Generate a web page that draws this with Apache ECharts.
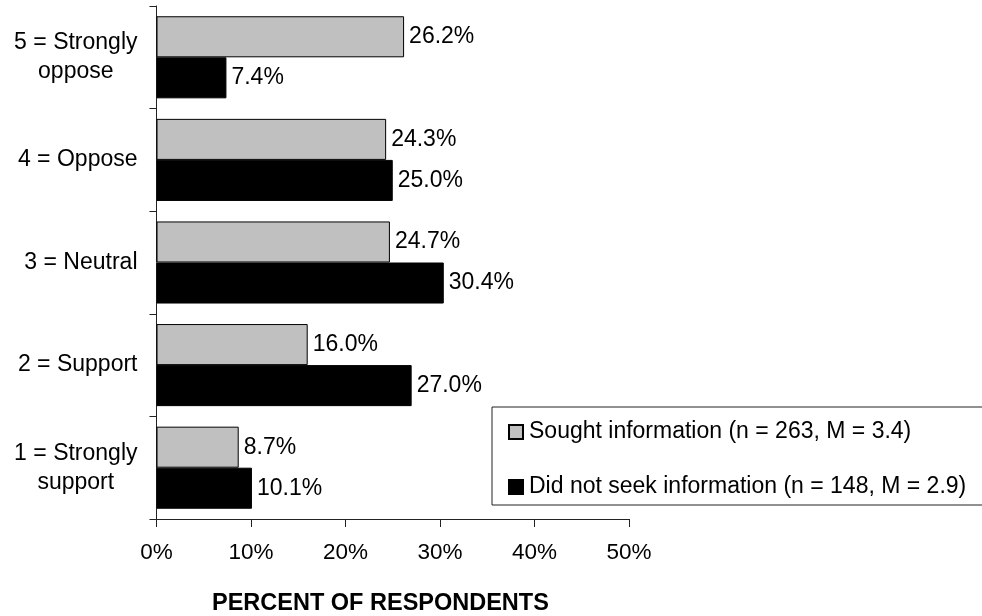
<!DOCTYPE html>
<html>
<head>
<meta charset="utf-8">
<script src="https://cdn.jsdelivr.net/npm/echarts@6/dist/echarts.min.js"></script>
<style>
html,body{margin:0;padding:0;background:#fff;}
#chart{width:982px;height:616px;}
</style>
</head>
<body>
<div id="chart"></div>
<script>
var categories = ['1 = Strongly\nsupport', '2 = Support', '3 = Neutral', '4 = Oppose', '5 = Strongly\noppose'];
var soughtValues = [8.7, 16.0, 24.7, 24.3, 26.2];
var notSoughtValues = [10.1, 27.0, 30.4, 25.0, 7.4];
var soughtName = 'Sought information (n = 263, M = 3.4)';
var notSoughtName = 'Did not seek information (n = 148, M = 2.9)';
var xTicks = [0, 10, 20, 30, 40, 50];
var axisTitle = 'PERCENT OF RESPONDENTS';

var FONT = "'Liberation Sans', Arial, sans-serif";
var FS = 23;

var chart = echarts.init(document.getElementById('chart'), null, {renderer: 'canvas'});
var labelCfg = {
  show: true,
  position: 'right',
  distance: 5,
  color: '#000',
  fontFamily: FONT,
  fontSize: FS,
  formatter: function (p) { return p.value.toFixed(1) + '%'; }
};
chart.setOption({
  animation: false,
  backgroundColor: '#fff',
  textStyle: {fontFamily: FONT},
  title: {
    text: axisTitle,
    left: 212,
    top: 592,
    padding: 0,
    textStyle: {fontFamily: FONT, fontSize: 23.5, fontWeight: 'bold', color: '#000'}
  },
  grid: {left: 156.5, right: 353, top: 6, bottom: 97, containLabel: false},
  legend: {
    orient: 'vertical',
    left: 492,
    top: 407,
    data: [soughtName, notSoughtName],
    icon: 'rect',
    itemWidth: 14,
    itemHeight: 14,
    itemGap: 29,
    padding: [12, 80, 5, 16],
    borderColor: '#222',
    borderWidth: 1,
    backgroundColor: '#fff',
    textStyle: {fontFamily: FONT, fontSize: FS, color: '#000', lineHeight: 26, padding: [0, 0, 0, 1]}
  },
  xAxis: {
    type: 'value',
    min: xTicks[0],
    max: xTicks[xTicks.length - 1],
    interval: 10,
    axisLine: {show: true, lineStyle: {color: '#222', width: 1}},
    axisTick: {show: true, length: 8, lineStyle: {color: '#222'}},
    splitLine: {show: false},
    axisLabel: {
      margin: 22,
      fontFamily: FONT,
      fontSize: 22.5,
      color: '#000',
      formatter: '{value}%'
    }
  },
  yAxis: {
    type: 'category',
    data: categories,
    axisLine: {show: true, lineStyle: {color: '#222', width: 1}},
    axisTick: {show: true, length: 7, lineStyle: {color: '#222'}},
    axisLabel: {
      margin: 19,
      color: '#000',
      fontFamily: FONT,
      fontSize: FS,
      formatter: function (v) {
        return v.split('\n').map(function (s) { return '{a|' + s + '}'; }).join('\n');
      },
      rich: {a: {align: 'center', fontFamily: FONT, fontSize: FS, color: '#000', lineHeight: 29}}
    }
  },
  series: [
    {
      name: soughtName,
      type: 'bar',
      data: soughtValues,
      barGap: '0%',
      barCategoryGap: '20%',
      itemStyle: {color: '#c0c0c0', borderColor: '#000', borderWidth: 1},
      label: labelCfg
    },
    {
      name: notSoughtName,
      type: 'bar',
      data: notSoughtValues,
      barGap: '0%',
      barCategoryGap: '20%',
      itemStyle: {color: '#000', borderColor: '#000', borderWidth: 1},
      label: labelCfg
    }
  ]
});
</script>
</body>
</html>
